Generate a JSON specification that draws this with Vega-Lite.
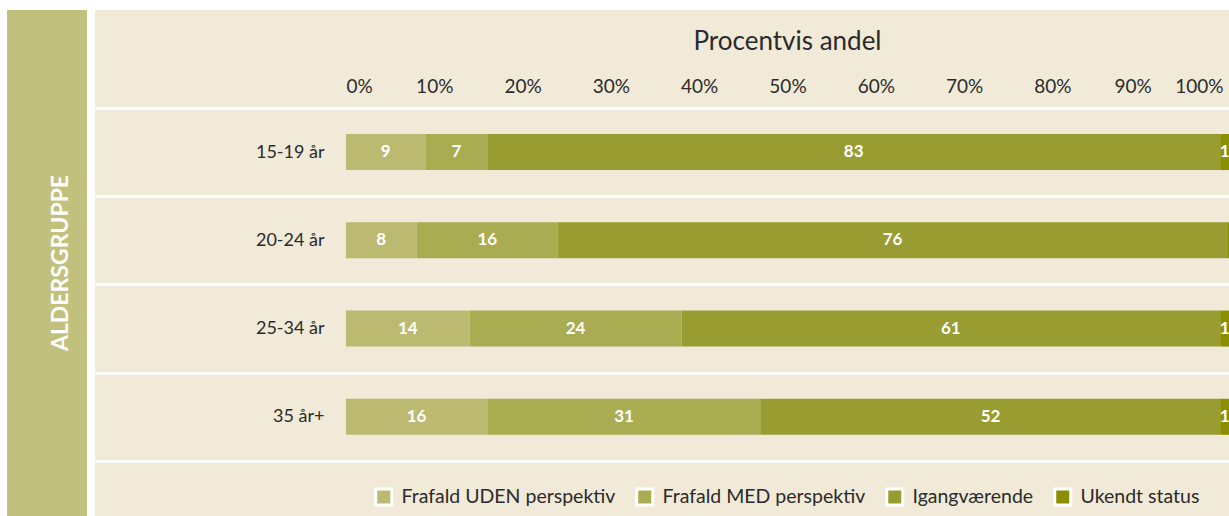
{
  "$schema": "https://vega.github.io/schema/vega-lite/v6.json",
  "background": "white",
  "padding": {"left": 7, "top": 1, "right": 0, "bottom": 0},
  "autosize": {"type": "pad"},
  "spacing": 8,
  "config": {"view": {"stroke": null}, "font": "Lato"},
  "hconcat": [
    {
      "width": 80,
      "height": 506,
      "view": {"fill": "#c1c07c", "stroke": null},
      "data": {"values": [{"title": "ALDERSGRUPPE"}]},
      "mark": {"type": "text", "angle": 270, "font": "Lato", "fontSize": 23, "fontWeight": "bold", "color": "white", "align": "center", "baseline": "middle", "dy": 14},
      "encoding": {"text": {"field": "title"}}
    },
    {
      "width": 1134,
      "height": 506,
      "view": {"fill": "#f1ead8", "stroke": null},
      "data": {"values": [
        {"age": "15-19 år", "status": "Frafald UDEN perspektiv", "i": 1, "v": 9},
        {"age": "15-19 år", "status": "Frafald MED perspektiv", "i": 2, "v": 7},
        {"age": "15-19 år", "status": "Igangværende", "i": 3, "v": 83},
        {"age": "15-19 år", "status": "Ukendt status", "i": 4, "v": 1},
        {"age": "20-24 år", "status": "Frafald UDEN perspektiv", "i": 1, "v": 8},
        {"age": "20-24 år", "status": "Frafald MED perspektiv", "i": 2, "v": 16},
        {"age": "20-24 år", "status": "Igangværende", "i": 3, "v": 75.8},
        {"age": "20-24 år", "status": "Ukendt status", "i": 4, "v": 0.2},
        {"age": "25-34 år", "status": "Frafald UDEN perspektiv", "i": 1, "v": 14},
        {"age": "25-34 år", "status": "Frafald MED perspektiv", "i": 2, "v": 24},
        {"age": "25-34 år", "status": "Igangværende", "i": 3, "v": 61},
        {"age": "25-34 år", "status": "Ukendt status", "i": 4, "v": 1},
        {"age": "35 år+", "status": "Frafald UDEN perspektiv", "i": 1, "v": 16},
        {"age": "35 år+", "status": "Frafald MED perspektiv", "i": 2, "v": 31},
        {"age": "35 år+", "status": "Igangværende", "i": 3, "v": 52},
        {"age": "35 år+", "status": "Ukendt status", "i": 4, "v": 1}
      ]},
      "transform": [
        {"stack": "v", "groupby": ["age"], "sort": [{"field": "i", "order": "ascending"}], "as": ["v0", "v1"]},
        {"calculate": "(datum.v0 + datum.v1) / 2", "as": "mid"}
      ],
      "encoding": {
        "y": {
          "field": "age",
          "type": "nominal",
          "sort": ["15-19 år", "20-24 år", "25-34 år", "35 år+"],
          "scale": {"paddingInner": 0, "paddingOuter": 0.867, "align": 0.64},
          "axis": {
            "title": null,
            "grid": true,
            "gridColor": "white",
            "gridWidth": 3,
            "gridOpacity": 1,
            "tickBand": "extent",
            "domain": false,
            "ticks": false,
            "offset": -251,
            "labelPadding": 22,
            "labelFontSize": 18,
            "labelColor": "#2b2b2b",
            "labelFont": "Lato"
          }
        }
      },
      "layer": [
        {
          "mark": {"type": "bar", "height": {"band": 0.408}},
          "encoding": {
            "x": {
              "field": "v0",
              "type": "quantitative",
              "scale": {"domain": [-28.42, 100], "nice": false, "zero": false},
              "axis": {
                "orient": "top",
                "values": [0, 10, 20, 30, 40, 50, 60, 70, 80, 90, 100],
                "labelExpr": "datum.value + '%'",
                "grid": false,
                "domain": false,
                "ticks": false,
                "offset": -86,
                "labelPadding": 4,
                "labelBaseline": "alphabetic",
                "labelFontSize": 19,
                "labelFont": "Lato",
                "labelColor": "#2b2b2b",
                "labelOverlap": false,
                "labelAlign": {"condition": [{"test": "datum.value == 0", "value": "left"}, {"test": "datum.value == 100", "value": "right"}], "value": "center"},
                "labelOffset": {"condition": [{"test": "datum.value == 90", "value": -8}, {"test": "datum.value == 100", "value": -6}], "value": 0},
                "title": "Procentvis andel",
                "titleFont": "Lato",
                "titleFontSize": 26,
                "titleFontWeight": "normal",
                "titleColor": "#2b2b2b",
                "titleX": 692,
                "titleY": -47,
                "titleBaseline": "alphabetic",
                "titleAlign": "center"
              }
            },
            "x2": {"field": "v1"},
            "color": {
              "field": "status",
              "type": "nominal",
              "scale": {
                "domain": ["Frafald UDEN perspektiv", "Frafald MED perspektiv", "Igangværende", "Ukendt status"],
                "range": ["#bcba70", "#aaac52", "#999c30", "#8b8e00"]
              },
              "legend": {
                "orient": "none",
                "legendX": 367,
                "legendY": 477,
                "direction": "horizontal",
                "title": null,
                "symbolType": "square",
                "symbolSize": 256,
                "symbolOpacity": 1,
                "labelFontSize": 19.5,
                "labelFont": "Lato",
                "labelColor": "#2b2b2b",
                "labelLimit": 0,
                "labelOffset": 8,
                "columnPadding": 14,
                "encode": {"symbols": {"update": {"stroke": {"value": "white"}, "strokeWidth": {"value": 3}}}}
              }
            }
          }
        },
        {
          "transform": [{"filter": "datum.v >= 0.5"}],
          "mark": {"type": "text", "color": "white", "fontWeight": "bold", "fontSize": 17, "font": "Lato", "align": "center", "baseline": "middle"},
          "encoding": {
            "x": {"field": "mid", "type": "quantitative"},
            "text": {"field": "v", "type": "quantitative", "format": ".0f"}
          }
        }
      ]
    }
  ]
}
